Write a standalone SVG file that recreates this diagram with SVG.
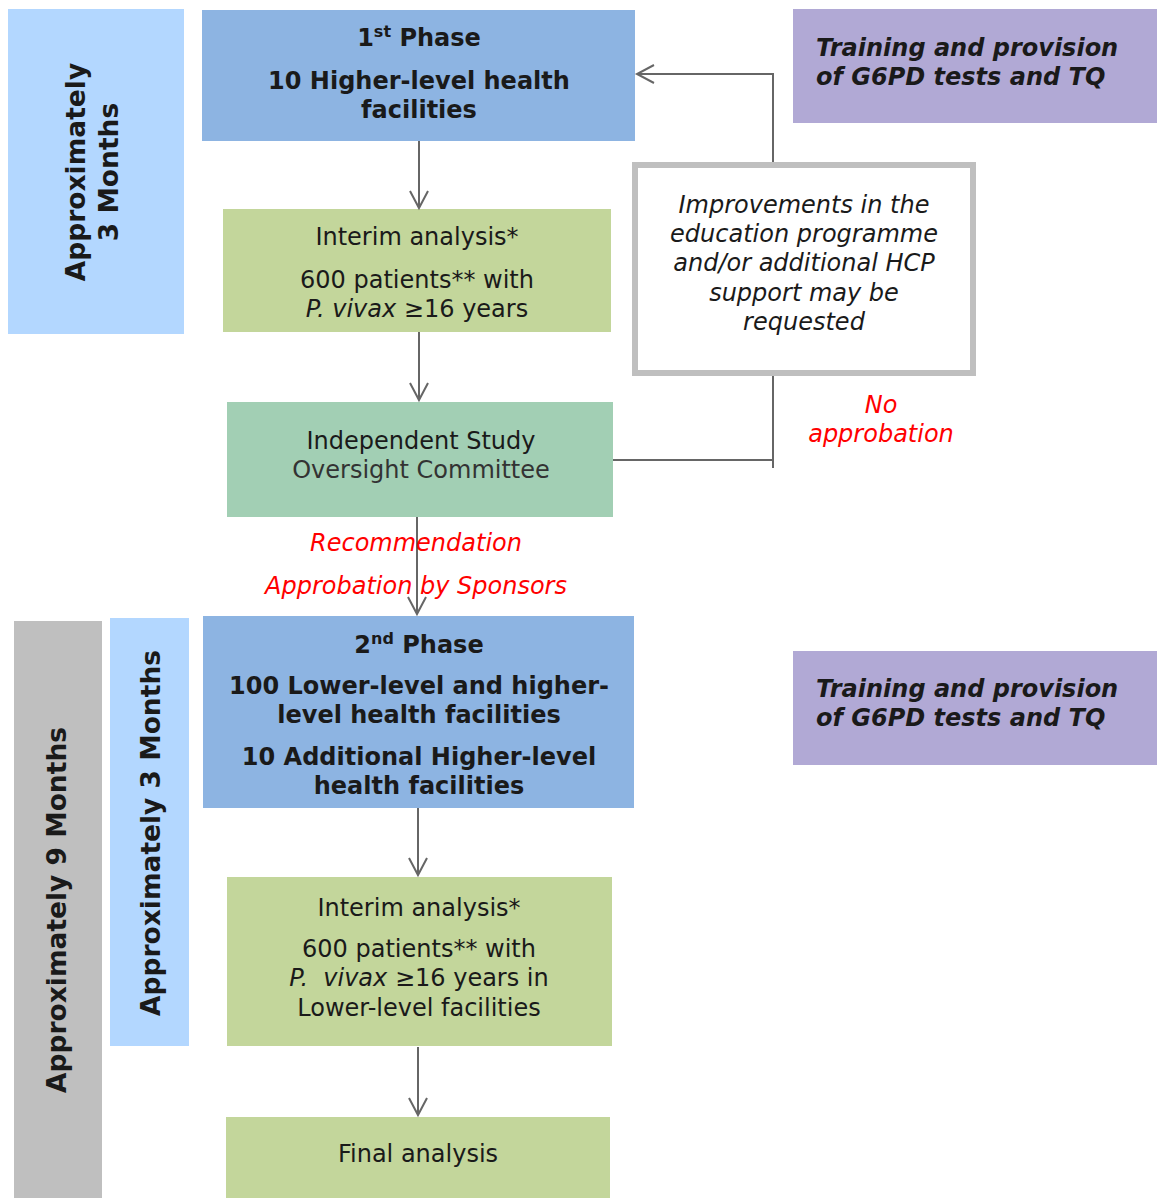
<svg xmlns="http://www.w3.org/2000/svg" width="1157" height="1198" viewBox="0 0 1157 1198">
<style>
text{font-family:"DejaVu Sans","Liberation Sans",sans-serif;fill:#1a1a1a}
.c{text-anchor:middle}
.b{font-weight:bold}
.i{font-style:italic}
.n{font-size:24px}
.r{fill:#ff0000;font-style:italic;font-size:24px}
.vert{font-weight:bold;font-size:26.5px;text-anchor:middle}
.blue{fill:#8db4e2}
.green{fill:#c3d69b}
.purple{fill:#b1a9d5}
.lb{fill:#b3d7ff}
.conn{stroke:#666;stroke-width:2;fill:none}
</style>
<defs>
<marker id="arr" markerUnits="userSpaceOnUse" markerWidth="24" markerHeight="24" viewBox="-20 -12 24 24" refX="0" refY="0" orient="auto">
<path d="M-17,-9 L0,0 L-17,9" fill="none" stroke="#666" stroke-width="2"/>
</marker>
</defs>
<rect width="1157" height="1198" fill="#fff"/>

<g id="timeline-top">
<rect class="lb" x="8" y="9" width="176" height="325"/>
<text class="vert" transform="translate(85,172) rotate(-90)">Approximately</text>
<text class="vert" transform="translate(118,172) rotate(-90)">3 Months</text>
</g>

<g id="timeline-9m">
<rect x="14" y="621" width="88" height="577" fill="#bfbfbf"/>
<text class="vert" transform="translate(66,910) rotate(-90)">Approximately 9 Months</text>
</g>

<g id="timeline-3m">
<rect class="lb" x="110" y="618" width="79" height="428"/>
<text class="vert" transform="translate(160,833) rotate(-90)">Approximately 3 Months</text>
</g>

<g id="phase1">
<rect class="blue" x="202" y="10" width="433" height="131"/>
<text class="c b n" x="419" y="46">1<tspan font-size="16" dy="-9">st</tspan><tspan dy="9"> Phase</tspan></text>
<text class="c b n" x="419" y="89">10 Higher-level health</text>
<text class="c b n" x="419" y="118">facilities</text>
</g>

<g id="training1">
<rect class="purple" x="793" y="9" width="364" height="114"/>
<text class="b i n" x="816" y="56">Training and provision</text>
<text class="b i n" x="816" y="85">of G6PD tests and TQ</text>
</g>

<g id="interim1">
<rect class="green" x="223" y="209" width="388" height="123"/>
<text class="c n" x="417" y="245">Interim analysis*</text>
<text class="c n" x="417" y="288">600 patients** with</text>
<text class="c n" x="417" y="317"><tspan class="i">P. vivax</tspan> ≥16 years</text>
</g>

<g id="improvements">
<rect x="635" y="165" width="338" height="208" fill="#fff" stroke="#bfbfbf" stroke-width="6"/>
<text class="c i n" x="804" y="213">Improvements in the</text>
<text class="c i n" x="804" y="242">education programme</text>
<text class="c i n" x="804" y="271">and/or additional HCP</text>
<text class="c i n" x="804" y="301">support may be</text>
<text class="c i n" x="804" y="330">requested</text>
</g>

<g id="isoc">
<rect x="227" y="402" width="386" height="115" fill="#a2cfb4"/>
<text class="c n" x="421" y="449">Independent Study</text>
<text class="c n" x="421" y="478" style="fill:#333">Oversight Committee</text>
</g>

<g id="phase2">
<rect class="blue" x="203" y="616" width="431" height="192"/>
<text class="c b n" x="419" y="653">2<tspan font-size="16" dy="-9">nd</tspan><tspan dy="9"> Phase</tspan></text>
<text class="c b n" x="419" y="694">100 Lower-level and higher-</text>
<text class="c b n" x="419" y="723">level health facilities</text>
<text class="c b n" x="419" y="765">10 Additional Higher-level</text>
<text class="c b n" x="419" y="794">health facilities</text>
</g>

<g id="training2">
<rect class="purple" x="793" y="651" width="364" height="114"/>
<text class="b i n" x="816" y="697">Training and provision</text>
<text class="b i n" x="816" y="726">of G6PD tests and TQ</text>
</g>

<g id="interim2">
<rect class="green" x="227" y="877" width="385" height="169"/>
<text class="c n" x="419" y="916">Interim analysis*</text>
<text class="c n" x="419" y="957">600 patients** with</text>
<text class="c n" x="419" y="986" xml:space="preserve"><tspan class="i">P.  vivax</tspan> ≥16 years in</text>
<text class="c n" x="419" y="1016">Lower-level facilities</text>
</g>

<g id="final">
<rect class="green" x="226" y="1117" width="384" height="81"/>
<text class="c n" x="418" y="1162">Final analysis</text>
</g>

<g id="connectors">
<line class="conn" x1="419" y1="141" x2="419" y2="208" marker-end="url(#arr)"/>
<line class="conn" x1="419" y1="332" x2="419" y2="400" marker-end="url(#arr)"/>
<line class="conn" x1="417" y1="517" x2="417" y2="614" marker-end="url(#arr)"/>
<line class="conn" x1="418" y1="808" x2="418" y2="875" marker-end="url(#arr)"/>
<line class="conn" x1="418" y1="1047" x2="418" y2="1115" marker-end="url(#arr)"/>
<polyline class="conn" points="613,460 773,460"/>
<line class="conn" x1="773" y1="376" x2="773" y2="468"/>
<polyline class="conn" points="773,162 773,74 637,74" marker-end="url(#arr)"/>
</g>

<g id="labels">
<text class="r c" x="881" y="413">No</text>
<text class="r c" x="881" y="442">approbation</text>
<text class="r c" x="416" y="551">Recommendation</text>
<text class="r c" x="416" y="594">Approbation by Sponsors</text>
</g>
</svg>
